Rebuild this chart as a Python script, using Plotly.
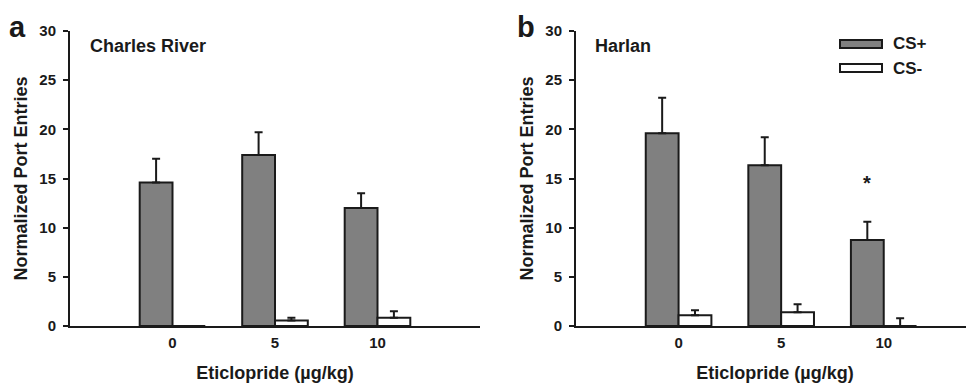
import plotly.graph_objects as go

doses = ["0", "5", "10"]
series_names = ["CS+", "CS-"]
panel_titles = ["Charles River", "Harlan"]
panel_letters = ["a", "b"]
y_ticks = [0, 5, 10, 15, 20, 25, 30]

cr_cs_plus = [14.6, 17.4, 12.0]
cr_cs_plus_err = [2.4, 2.3, 1.5]
cr_cs_minus = [0.0, 0.55, 0.85]
cr_cs_minus_err = [0.0, 0.3, 0.65]

h_cs_plus = [19.6, 16.35, 8.75]
h_cs_plus_err = [3.6, 2.85, 1.85]
h_cs_minus = [1.1, 1.4, 0.0]
h_cs_minus_err = [0.5, 0.8, 0.8]

FONT = "Liberation Sans, Arial, sans-serif"
INK = "#1a1a1a"
GRAY = "#808080"

# page body has an 8px margin; figure sized to fit the window
OFF = 8
W, H = 974 - OFF, 383 - OFF


def px(x):
    return (x - OFF) / W


def py(y):
    return 1 - (y - OFF) / H


fig = go.Figure()


def add_bars(vals, errs, name, color, xa, ya):
    fig.add_trace(go.Bar(
        x=doses, y=vals, name=name, xaxis=xa, yaxis=ya,
        marker=dict(color=color, line=dict(color=INK, width=2)),
        error_y=dict(type="data", array=errs, arrayminus=[0] * len(errs),
                     symmetric=False, color=INK, thickness=2, width=4),
        showlegend=False,
    ))


add_bars(cr_cs_plus, cr_cs_plus_err, series_names[0], GRAY, "x", "y")
add_bars(cr_cs_minus, cr_cs_minus_err, series_names[1], "white", "x", "y")
add_bars(h_cs_plus, h_cs_plus_err, series_names[0], GRAY, "x2", "y2")
add_bars(h_cs_minus, h_cs_minus_err, series_names[1], "white", "x2", "y2")

ydom = [py(326), py(31)]
xaxis_common = dict(
    type="category", showline=True, linecolor=INK, linewidth=2,
    ticks="", showgrid=False, zeroline=False, automargin=False,
    ticklabelstandoff=2,
    tickfont=dict(family=FONT, size=15, color=INK, weight="bold"),
    title=dict(text="Eticlopride (µg/kg)", standoff=16,
               font=dict(family=FONT, size=18, color=INK, weight="bold")),
)
yaxis_common = dict(
    range=[0, 30], tickvals=y_ticks, showline=True, linecolor=INK, linewidth=2,
    ticks="outside", ticklen=5, tickwidth=2, tickcolor=INK, showgrid=False,
    zeroline=False, domain=ydom, automargin=False, ticklabelstandoff=4,
    tickfont=dict(family=FONT, size=15, color=INK, weight="bold"),
    title=dict(text="Normalized Port Entries", standoff=7,
               font=dict(family=FONT, size=18, color=INK, weight="bold")),
)

fig.update_layout(
    width=W, height=H,
    margin=dict(l=0, r=0, t=0, b=0),
    paper_bgcolor="white", plot_bgcolor="white",
    barmode="group", bargap=0.36, bargroupgap=0,
    xaxis=dict(xaxis_common, domain=[px(70), px(480)], range=[-1, 3], anchor="y"),
    yaxis=dict(yaxis_common, anchor="x"),
    xaxis2=dict(xaxis_common, domain=[px(576), 1.0], range=[-1, 2.88], anchor="y2"),
    yaxis2=dict(yaxis_common, anchor="x2"),
)

ann = []
# panel letters
for letter, xs in zip(panel_letters, [7, 515]):
    ann.append(dict(text=letter, xref="paper", yref="paper", x=px(xs), y=py(9),
                    xanchor="left", yanchor="top", showarrow=False,
                    font=dict(family=FONT, size=29, color=INK, weight="bold")))
# panel titles
for title, xs in zip(panel_titles, [88, 593]):
    ann.append(dict(text=title, xref="paper", yref="paper", x=px(xs), y=py(46),
                    xanchor="left", yanchor="middle", showarrow=False,
                    font=dict(family=FONT, size=18, color=INK, weight="bold")))
# asterisk over Harlan 10 CS+
ann.append(dict(text="*", xref="x2", yref="y2", x=doses.index("10"),
                y=h_cs_plus[2] + h_cs_plus_err[2] + 3.9,
                xshift=-16.5, xanchor="center", yanchor="middle", showarrow=False,
                font=dict(family=FONT, size=20, color=INK, weight="bold")))
# legend labels
for name, ys in zip(series_names, [44, 68]):
    ann.append(dict(text=name, xref="paper", yref="paper", x=px(891), y=py(ys),
                    xanchor="left", yanchor="middle", showarrow=False,
                    font=dict(family=FONT, size=17, color=INK, weight="bold")))
fig.update_layout(annotations=ann)

shapes = [
    dict(type="rect", xref="paper", yref="paper", x0=px(840), x1=px(882),
         y0=py(48), y1=py(40), fillcolor=GRAY, line=dict(color=INK, width=2)),
    dict(type="rect", xref="paper", yref="paper", x0=px(840), x1=px(882),
         y0=py(72), y1=py(64), fillcolor="white", line=dict(color=INK, width=2)),
]
fig.update_layout(shapes=shapes)

fig.write_html("out.html")
